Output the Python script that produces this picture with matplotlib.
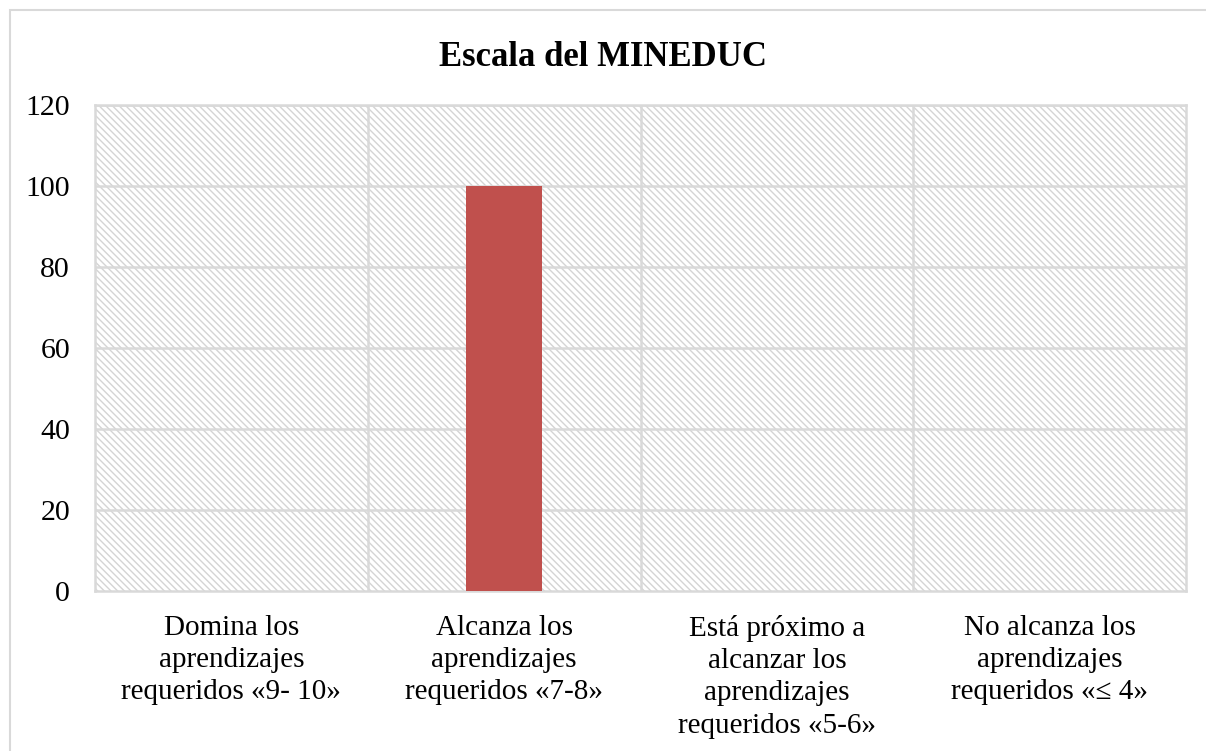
import matplotlib.pyplot as plt
from matplotlib.patches import Rectangle
import numpy as np

categories = ['Domina los\naprendizajes\nrequeridos «9- 10»',
              'Alcanza los\naprendizajes\nrequeridos «7-8»',
              'Está próximo a\nalcanzar los\naprendizajes\nrequeridos «5-6»',
              'No alcanza los\naprendizajes\nrequeridos «≤ 4»']
values = [0, 100, 0, 0]
y_ticks = [0, 20, 40, 60, 80, 100, 120]

plt.rcParams['font.family'] = ['Liberation Serif', 'DejaVu Serif']
plt.rcParams['hatch.color'] = '#d4d4d4'
plt.rcParams['hatch.linewidth'] = 1.0

fig = plt.figure(figsize=(12.06, 7.51), dpi=100)
ax = fig.add_axes([95 / 1206, 1 - 591 / 751, (1186 - 95) / 1206, (591 - 105) / 751])

# figure border
fig.patches.append(Rectangle((10 / 1206, -0.01), 1.0, 1 - 10 / 751 + 0.01, transform=fig.transFigure,
                             fill=False, edgecolor='#d9d9d9', linewidth=1.5))

# hatched plot background
ax.add_patch(Rectangle((0, 0), 1, 1, transform=ax.transAxes, facecolor='white',
                       hatch='\\\\\\\\\\', edgecolor='#d4d4d4', linewidth=0, zorder=0))

x = np.arange(len(categories))
ax.bar(x, values, width=0.276, color='#C0504D', zorder=3)

ax.set_xlim(-0.5, len(categories) - 0.5)
ax.set_ylim(0, 120)
ax.set_yticks(y_ticks)
ax.set_yticklabels([str(v) for v in y_ticks], fontsize=21.5)
ax.set_xticks(x)
ax.set_xticklabels(categories, fontsize=21, linespacing=1.32, va='top')

for yv in y_ticks[1:]:
    ax.axhline(yv, color='#d9d9d9', linewidth=1.8, zorder=1)
for xv in np.arange(0.5, len(categories) - 0.5, 1):
    ax.axvline(xv, color='#d9d9d9', linewidth=1.8, zorder=1)

for side in ['top', 'right', 'left', 'bottom']:
    ax.spines[side].set_color('#d9d9d9')
    ax.spines[side].set_linewidth(1.8)
ax.tick_params(axis='x', length=0, pad=17)
ax.tick_params(axis='y', length=0, pad=18)

fig.text(0.5, 1 - 57 / 751, 'Escala del MINEDUC', ha='center', va='center',
         fontsize=25, fontweight='bold')

fig.savefig('out.png', dpi=100)
